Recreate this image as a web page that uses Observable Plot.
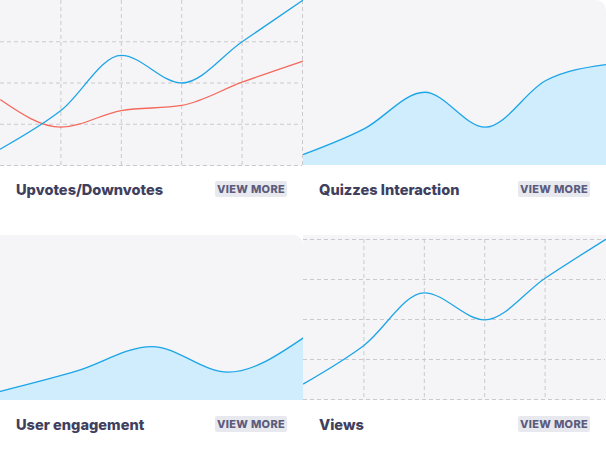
<!DOCTYPE html>
<html>
<head>
<meta charset="utf-8">
<script src="https://cdn.jsdelivr.net/npm/d3@7"></script>
<script src="https://cdn.jsdelivr.net/npm/@observablehq/plot@0.6"></script>
<style>
  html, body { margin: 0; padding: 0; background: #ffffff; }
  #wrap { position: relative; width: 606px; height: 470px; overflow: hidden; font-family: Inter, "Open Sans", sans-serif; }
  .card { position: absolute; width: 303px; height: 235px; }
  .card svg { position: absolute; left: 0; top: 0; }
  .title { position: absolute; left: 16px; top: 181px; font-size: 14.6px; font-weight: 800; color: #40405e; letter-spacing: 0; white-space: nowrap; }
  .btn { position: absolute; left: 215px; top: 181px; width: 72px; height: 16px; border-radius: 2px; background: #e8e8ef; color: #5c5c7c; font-size: 11px; font-weight: 800; line-height: 16px; text-align: center; letter-spacing: 0.3px; white-space: nowrap; }
</style>
</head>
<body>
<div id="wrap"></div>
<script>
// ---- data ----
const xIndex = [0, 1, 2, 3, 4, 5];
const upvotes = [10, 33.3, 66.7, 50, 75, 100];
const downvotes = [39.8, 23.2, 33.3, 36.4, 50.5, 63.2];
const quizzes = [6.7, 22.2, 44.4, 23.2, 51.5, 61.2];
const engagementX = [0, 1, 2, 3, 4];
const engagement = [5.6, 17.8, 32.7, 17.2, 38];
const views = [9.8, 33.8, 66.7, 49.8, 75.8, 100];
const gridTicks = [0, 25, 50, 75, 100];
const titles = ["Upvotes/Downvotes", "Quizzes Interaction", "User engagement", "Views"];
const buttonLabel = "VIEW MORE";

const BLUE = "#1ea5e6", RED = "#f4695a", AREA = "#d0edfd", BG = "#f5f5f8", GRID = "#cacace";

const toRows = (xs, ys) => xs.map((x, i) => ({x, y: ys[i]}));

function gridMarks() {
  return [
    Plot.gridX(xIndex.slice(1), {stroke: GRID, strokeOpacity: 1, strokeDasharray: "4,3"}),
    Plot.gridY(gridTicks.slice(0, 4), {stroke: GRID, strokeOpacity: 1, strokeDasharray: "4,3"})
  ];
}

const charts = [
  Plot.plot({
    width: 303, height: 166, marginTop: 0, marginBottom: 1, marginLeft: 0, marginRight: 1,
    x: {domain: [0, 5], axis: null}, y: {domain: [0, 100], axis: null},
    style: {background: BG},
    marks: [
      ...gridMarks(),
      Plot.lineY(toRows(xIndex, downvotes), {x: "x", y: "y", curve: "monotone-x", stroke: RED, strokeWidth: 1.3}),
      Plot.lineY(toRows(xIndex, upvotes), {x: "x", y: "y", curve: "monotone-x", stroke: BLUE, strokeWidth: 1.3})
    ]
  }),
  Plot.plot({
    width: 303, height: 165, marginTop: 0, marginBottom: 0, marginLeft: 0, marginRight: 0,
    x: {domain: [0, 5], axis: null}, y: {domain: [0, 100], axis: null},
    style: {background: BG, borderTopRightRadius: "10px"},
    marks: [
      Plot.areaY(toRows(xIndex, quizzes), {x: "x", y: "y", curve: "monotone-x", fill: AREA}),
      Plot.lineY(toRows(xIndex, quizzes), {x: "x", y: "y", curve: "monotone-x", stroke: BLUE, strokeWidth: 1.3})
    ]
  }),
  Plot.plot({
    width: 303, height: 165, marginTop: 0, marginBottom: 0, marginLeft: 0, marginRight: 0,
    x: {domain: [0, 4], axis: null}, y: {domain: [0, 100], axis: null},
    style: {background: BG, borderTopRightRadius: "10px"},
    marks: [
      Plot.areaY(toRows(engagementX, engagement), {x: "x", y: "y", curve: "monotone-x", fill: AREA}),
      Plot.lineY(toRows(engagementX, engagement), {x: "x", y: "y", curve: "monotone-x", stroke: BLUE, strokeWidth: 1.3})
    ]
  }),
  Plot.plot({
    width: 303, height: 165, marginTop: 4, marginBottom: 1, marginLeft: 0, marginRight: 1,
    x: {domain: [0, 5], axis: null}, y: {domain: [0, 100], axis: null},
    style: {background: BG},
    marks: [
      Plot.gridX(xIndex.slice(1, 5), {stroke: GRID, strokeOpacity: 1, strokeDasharray: "4,3"}),
      Plot.gridY(gridTicks, {stroke: GRID, strokeOpacity: 1, strokeDasharray: "4,3"}),
      Plot.lineY(toRows(xIndex, views), {x: "x", y: "y", curve: "monotone-x", stroke: BLUE, strokeWidth: 1.3})
    ]
  })
];

const positions = [[0, 0], [303, 0], [0, 235], [303, 235]];
const wrap = document.getElementById("wrap");
charts.forEach((svg, i) => {
  const card = document.createElement("div");
  card.className = "card";
  card.style.left = positions[i][0] + "px";
  card.style.top = positions[i][1] + "px";
  card.appendChild(svg);
  const t = document.createElement("div");
  t.className = "title";
  t.textContent = titles[i];
  card.appendChild(t);
  const b = document.createElement("div");
  b.className = "btn";
  b.textContent = buttonLabel;
  card.appendChild(b);
  wrap.appendChild(card);
});
</script>
</body>
</html>
